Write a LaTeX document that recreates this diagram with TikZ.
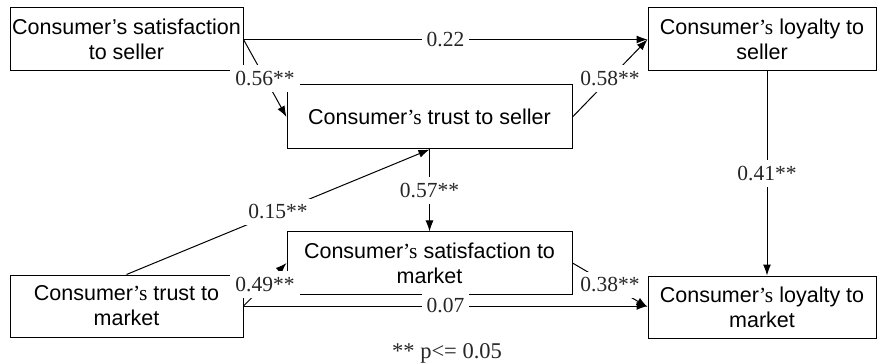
\documentclass[tikz,border=0pt]{standalone}
\usepackage{fontspec}
\setmainfont{Liberation Serif}
\newfontfamily\boxsans{Liberation Sans}
\usetikzlibrary{arrows.meta}
\begin{document}
\begin{tikzpicture}[x=1pt,y=-1pt,
  box/.style={draw, line width=1pt, minimum height=63pt, align=center,
    font=\boxsans\fontsize{21.5}{25}\selectfont, inner sep=0pt},
  conn/.style={line width=1pt, -{Latex[length=11pt,width=8pt]}},
  lab/.style={fill=white, inner xsep=5pt, inner ysep=6pt, font=\fontsize{21.5}{24}\selectfont, text=black!85}]
\useasboundingbox (0,0) rectangle (877,363);
\node[box, minimum width=233pt] (cs) at (126.5,39.5) {Consumer’s satisfaction\\to seller};
\node[box, minimum width=228pt] (ls) at (762,39.5) {Consumer{\rmfamily’s} loyalty to\\seller};
\node[box, minimum width=285pt, minimum height=64pt] (ts) at (429.5,117) {Consumer{\rmfamily’s} trust to seller};
\node[box, minimum width=285pt, minimum height=62pt] (sm) at (429.5,263) {Consumer{\rmfamily’s} satisfaction to\\market};
\node[box, minimum width=233pt, minimum height=62pt] (tm) at (126.5,306) {Consumer{\rmfamily’s} trust to\\market};
\node[box, minimum width=228pt, minimum height=62pt] (lm) at (762,307) {Consumer{\rmfamily’s} loyalty to\\market};

\draw[conn] (cs.east) -- node[lab] {0.22} (ls.west);
\draw[conn] (cs.east) -- node[lab] {0.56**} (ts.west);
\draw[conn] (ts.east) -- node[lab] {0.58**} (ls.west);
\draw[conn] (tm.north) -- node[lab] {0.15**} (ts.south);
\draw[conn] (ts.south) -- node[lab] {0.57**} (sm.north);
\draw[conn] ([xshift=5pt]ls.south) -- node[lab] {0.41**} ([xshift=5pt]lm.north);
\draw[conn] (tm.east) -- node[lab] {0.49**} (sm.west);
\draw[conn] (tm.east) -- node[lab] {0.07} (tm.east -| lm.west);
\draw[conn] (sm.east) -- node[lab] {0.38**} (lm.west);

\node[font=\fontsize{22.5}{26}\selectfont, text=black!85] (fn) at (447,353) {** p<= 0.05};
\end{tikzpicture}
\end{document}
